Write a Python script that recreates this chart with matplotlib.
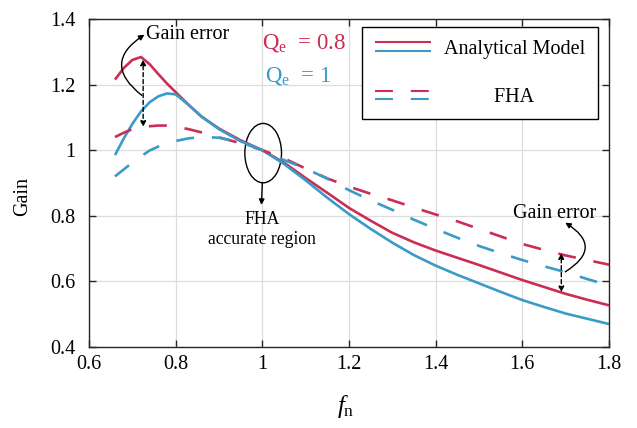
# -*- coding: utf-8 -*-
# Gain curves: analytical model vs. FHA for Qe = 0.8 and Qe = 1
import matplotlib
matplotlib.use("Agg")
import matplotlib.pyplot as plt
from matplotlib.lines import Line2D
from matplotlib.patches import Ellipse
from matplotlib.legend_handler import HandlerBase
from matplotlib.ticker import FuncFormatter

plt.rcParams['font.family'] = ['Liberation Serif', 'DejaVu Serif']
plt.rcParams['mathtext.fontset'] = 'custom'
plt.rcParams['mathtext.rm'] = 'Liberation Serif'
plt.rcParams['mathtext.it'] = 'Liberation Serif:italic'

# Daten
fn = [0.66, 0.68, 0.70, 0.72, 0.74, 0.76, 0.78, 0.80, 0.83, 0.86, 0.90, 0.95, 1.00,
      1.05, 1.10, 1.15, 1.20, 1.25, 1.30, 1.35, 1.40, 1.45, 1.50, 1.55, 1.60, 1.65,
      1.70, 1.75, 1.80]
gain_ana_08 = [1.215, 1.250, 1.275, 1.284, 1.262, 1.232, 1.203, 1.177, 1.138, 1.102,
               1.066, 1.030, 1.000, 0.962, 0.915, 0.870, 0.824, 0.785, 0.748, 0.719,
               0.694, 0.672, 0.650, 0.627, 0.604, 0.583, 0.562, 0.544, 0.527]
gain_ana_1 = [0.985, 1.035, 1.080, 1.118, 1.146, 1.164, 1.173, 1.170, 1.138, 1.102,
              1.064, 1.027, 1.000, 0.958, 0.908, 0.855, 0.805, 0.760, 0.718, 0.680,
              0.648, 0.620, 0.594, 0.568, 0.543, 0.522, 0.502, 0.486, 0.470]
gain_fha_08 = [1.040, 1.053, 1.064, 1.070, 1.073, 1.075, 1.075, 1.072, 1.064, 1.054,
               1.039, 1.021, 1.000, 0.975, 0.944, 0.914, 0.889, 0.867, 0.847, 0.825,
               0.804, 0.783, 0.760, 0.737, 0.714, 0.696, 0.679, 0.665, 0.651]
gain_fha_1 = [0.920, 0.941, 0.962, 0.981, 0.999, 1.011, 1.021, 1.028, 1.036, 1.040,
              1.038, 1.024, 1.000, 0.970, 0.944, 0.913, 0.878, 0.847, 0.818, 0.788,
              0.760, 0.733, 0.708, 0.686, 0.665, 0.646, 0.628, 0.607, 0.588]

x_ticks = [0.6, 0.8, 1.0, 1.2, 1.4, 1.6, 1.8]
y_ticks = [0.4, 0.6, 0.8, 1.0, 1.2, 1.4]
legend_labels = ['Analytical Model', '          FHA']

RED = '#CC2D55'
BLUE = '#3A9BC7'
LW = 1.9
DASH = (0, (6.8, 6.8))


# Legenden-Handler: zwei Linien uebereinander
class PairHandler(HandlerBase):
    def create_artists(self, legend, orig_handle, xdescent, ydescent, width,
                       height, fontsize, trans):
        arts = []
        for i, h in enumerate(orig_handle):
            y = height * (0.5 + 0.3 - 0.6 * i) - ydescent
            ln = Line2D([-xdescent, -xdescent + width], [y, y])
            ln.update_from(h)
            ln.set_linewidth(1.5)
            if h.get_linestyle() != '-':
                ln.set_linestyle((0, (8.6, 8.6)))
            ln.set_transform(trans)
            arts.append(ln)
        return arts


fig = plt.figure(figsize=(6.37, 4.28), dpi=100)
ax = fig.add_axes([0.1397, 0.1893, 0.8163, 0.7664])

l_a08, = ax.plot(fn, gain_ana_08, color=RED, lw=LW, solid_capstyle='butt')
l_a1, = ax.plot(fn, gain_ana_1, color=BLUE, lw=LW, solid_capstyle='butt')
l_f08, = ax.plot(fn, gain_fha_08, color=RED, lw=LW, linestyle=DASH, dash_capstyle='butt')
l_f1, = ax.plot(fn, gain_fha_1, color=BLUE, lw=LW, linestyle=DASH, dash_capstyle='butt')

ax.set_xlim(0.6, 1.8)
ax.set_ylim(0.4, 1.4)
ax.set_xticks(x_ticks)
ax.set_yticks(y_ticks)
fmt = FuncFormatter(lambda v, p: f"{v:g}")
ax.xaxis.set_major_formatter(fmt)
ax.yaxis.set_major_formatter(fmt)
ax.grid(True, color='#DDDDDD', lw=0.9)
ax.set_axisbelow(True)
ax.tick_params(direction='in', length=5, width=1, top=True, right=True,
               labelsize=14.5, colors='#262626', labelcolor='black')
ax.tick_params(axis='x', pad=6)
ax.tick_params(axis='y', pad=10)
for s in ax.spines.values():
    s.set_color('#262626')
    s.set_linewidth(1.0)

ax.set_ylabel('Gain', fontsize=14.5)
ax.yaxis.set_label_coords(-0.11, 0.46)
ax.set_xlabel(r'$\mathit{f}_{\mathrm{n}}$', fontsize=18)
ax.xaxis.set_label_coords(0.494, -0.14)

# Legende
leg = ax.legend(handles=[(l_a08, l_a1), (l_f08, l_f1)], labels=legend_labels,
                handler_map={tuple: PairHandler()}, loc='upper right',
                bbox_to_anchor=(0.979, 0.9756), borderaxespad=0, fontsize=14.5,
                fancybox=False, framealpha=1, edgecolor='black',
                handlelength=2.8, handletextpad=0.65, borderpad=0.62,
                labelspacing=1.45)
leg.get_frame().set_linewidth(1.0)

# Qe-Beschriftungen
ax.text(1.0, 1.31, r'$\mathrm{Q}_\mathrm{e}$  = 0.8', color=RED, fontsize=16.5,
        va='baseline', ha='left')
ax.text(1.006, 1.21, r'$\mathrm{Q}_\mathrm{e}$  = 1', color=BLUE, fontsize=16.5,
        va='baseline', ha='left')

# Gain error links
ax.annotate('', xy=(0.725, 1.276), xytext=(0.725, 1.071),
            arrowprops=dict(arrowstyle='<|-|>', linestyle=(0, (3, 2)), lw=1.0,
                            color='black', mutation_scale=8, shrinkA=0, shrinkB=0))
ax.annotate('', xy=(0.728, 1.352), xytext=(0.722, 1.167),
            arrowprops=dict(arrowstyle='-|>', lw=1.0, color='black',
                            mutation_scale=8, shrinkA=0, shrinkB=0,
                            connectionstyle='arc3,rad=-0.7'))
ax.text(0.731, 1.352, 'Gain error', fontsize=14.5, ha='left', va='center')

# Gain error rechts
ax.annotate('', xy=(1.690, 0.686), xytext=(1.690, 0.567),
            arrowprops=dict(arrowstyle='<|-|>', linestyle=(0, (3, 2)), lw=1.0,
                            color='black', mutation_scale=8, shrinkA=0, shrinkB=0))
ax.annotate('', xy=(1.699, 0.779), xytext=(1.699, 0.629),
            arrowprops=dict(arrowstyle='-|>', lw=1.0, color='black',
                            mutation_scale=8, shrinkA=0, shrinkB=0,
                            connectionstyle='arc3,rad=0.8'))
ax.text(1.675, 0.807, 'Gain error', fontsize=14.5, ha='center', va='center')

# FHA genauer Bereich
ax.add_patch(Ellipse((1.002, 0.991), 0.0846, 0.181, fill=False, ec='black', lw=1.0))
ax.annotate('', xy=(0.998, 0.833), xytext=(1.0, 0.900),
            arrowprops=dict(arrowstyle='-|>', lw=1.0, color='black',
                            mutation_scale=8, shrinkA=0, shrinkB=0))
ax.text(1.0, 0.759, 'FHA\naccurate region', fontsize=12.7, ha='center',
        va='center', linespacing=1.25)

fig.savefig('out.png', dpi=100)
